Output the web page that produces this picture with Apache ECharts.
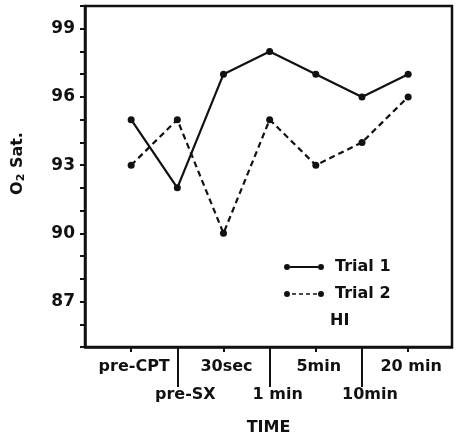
<!DOCTYPE html>
<html>
<head>
<meta charset="utf-8">
<script src="https://cdn.jsdelivr.net/npm/echarts@6/dist/echarts.min.js"></script>
<style>
  html, body { margin: 0; padding: 0; background: #fff; }
  #chart { width: 457px; height: 444px; }
</style>
</head>
<body>
<div id="chart"></div>
<script>
// Time points of the measurement
var categories = ['pre-CPT', 'pre-SX', '30sec', '1 min', '5min', '10min', '20 min'];
// O2 saturation per time point
var trial1 = [95, 92, 97, 98, 97, 96, 97];
var trial2 = [93, 95, 90, 95, 93, 94, 96];
// Labelled values on the O2 axis
var yTickLabels = [87, 90, 93, 96, 99];

var FONT = 'DejaVu Sans';
var INK = '#111';

function toPoints(arr) {
  return arr.map(function (v, i) { return [i, v]; });
}

// Legend glyphs: a dot at each end joined by a solid or dashed line
var dots = 'M0,3a3,3 0 1,0 6,0a3,3 0 1,0 -6,0Z M34,3a3,3 0 1,0 6,0a3,3 0 1,0 -6,0Z';
var solidIcon = 'path://' + dots + ' M6,2.1H34V3.9H6Z';
var dashedIcon = 'path://' + dots +
  ' M8,2.2h4v1.6h-4Z M15,2.2h4v1.6h-4Z M22,2.2h4v1.6h-4Z M29,2.2h4v1.6h-4Z';

var allIdx = categories.map(function (c, i) { return i; });
var upperRow = allIdx.filter(function (i) { return i % 2 === 0; });
var lowerRow = allIdx.filter(function (i) { return i % 2 === 1; });

function catLabel(v) { return categories[Math.round(v)]; }

var chart = echarts.init(document.getElementById('chart'), null, { renderer: 'canvas' });

chart.setOption({
  animation: false,
  backgroundColor: '#fff',
  textStyle: { fontFamily: FONT, color: INK, fontWeight: 'bold' },
  grid: {
    left: 85, right: 5, top: 6, bottom: 97,
    show: true, borderColor: INK, borderWidth: 2.5, backgroundColor: 'transparent'
  },
  legend: {
    orient: 'vertical',
    left: 279, top: 254,
    itemWidth: 40, itemHeight: 6, itemGap: 11,
    itemStyle: { color: INK, borderWidth: 0 },
    textStyle: { fontFamily: FONT, fontSize: 16, fontWeight: 'bold', color: INK, padding: [0, 0, 0, 6] },
    data: [
      { name: 'Trial 1', icon: solidIcon },
      { name: 'Trial 2', icon: dashedIcon }
    ]
  },
  graphic: [{
    type: 'text',
    left: 330, top: 313,
    style: { text: 'HI', fontFamily: FONT, fontSize: 16, fontWeight: 'bold', fill: INK }
  }],
  xAxis: [{
    // upper row of time labels with short ticks
    type: 'value',
    min: -1, max: 6.95,
    position: 'bottom',
    splitLine: { show: false },
    axisLine: { show: true, onZero: false, lineStyle: { color: INK, width: 2.5 } },
    axisTick: { show: true, inside: false, length: 5, customValues: upperRow, lineStyle: { color: INK, width: 2 } },
    axisLabel: {
      customValues: upperRow,
      showMinLabel: true, showMaxLabel: true, hideOverlap: false,
      margin: 12,
      fontFamily: FONT, fontSize: 16, fontWeight: 'bold', color: INK,
      padding: [0, 0, 0, 6],
      formatter: catLabel
    },
    name: 'TIME',
    nameLocation: 'middle',
    nameGap: 73,
    nameTextStyle: { fontFamily: FONT, fontSize: 16, fontWeight: 'bold', color: INK }
  }, {
    // lower row of time labels with long separator ticks
    type: 'value',
    min: -1, max: 6.95,
    position: 'bottom',
    splitLine: { show: false },
    axisLine: { show: false, onZero: false },
    axisTick: { show: true, inside: false, length: 40, customValues: lowerRow, lineStyle: { color: INK, width: 2 } },
    axisLabel: {
      customValues: lowerRow,
      showMinLabel: true, showMaxLabel: true, hideOverlap: false,
      margin: 40,
      fontFamily: FONT, fontSize: 16, fontWeight: 'bold', color: INK,
      padding: [0, 0, 0, 16],
      formatter: catLabel
    }
  }],
  yAxis: {
    type: 'value',
    min: 85, max: 100, interval: 1,
    splitLine: { show: false },
    axisLine: { show: true, onZero: false, lineStyle: { color: INK, width: 2.5 } },
    axisTick: { show: true, inside: false, length: 5, lineStyle: { color: INK, width: 2 } },
    axisLabel: {
      margin: 10,
      fontFamily: FONT, fontSize: 17, fontWeight: 'bold', color: INK,
      formatter: function (v) { return yTickLabels.indexOf(v) >= 0 ? String(v) : ''; }
    },
    name: '{t|O}{s|2}{t| Sat.}',
    nameLocation: 'middle',
    nameGap: 58,
    nameRotate: 90,
    nameTextStyle: {
      padding: [0, 0, 0, 26],
      rich: {
        t: { fontFamily: FONT, fontSize: 16, fontWeight: 'bold', color: INK },
        s: { fontFamily: FONT, fontSize: 11, fontWeight: 'bold', color: INK, padding: [8, 0, 0, 0] }
      }
    }
  },
  series: [{
    name: 'Trial 1',
    type: 'line',
    data: toPoints(trial1),
    symbol: 'circle', symbolSize: 7,
    itemStyle: { color: INK },
    lineStyle: { color: INK, width: 2.2, type: 'solid' }
  }, {
    name: 'Trial 2',
    type: 'line',
    data: toPoints(trial2),
    symbol: 'circle', symbolSize: 7,
    itemStyle: { color: INK },
    lineStyle: { color: INK, width: 2.2, type: [6, 4] }
  }]
});
</script>
</body>
</html>
